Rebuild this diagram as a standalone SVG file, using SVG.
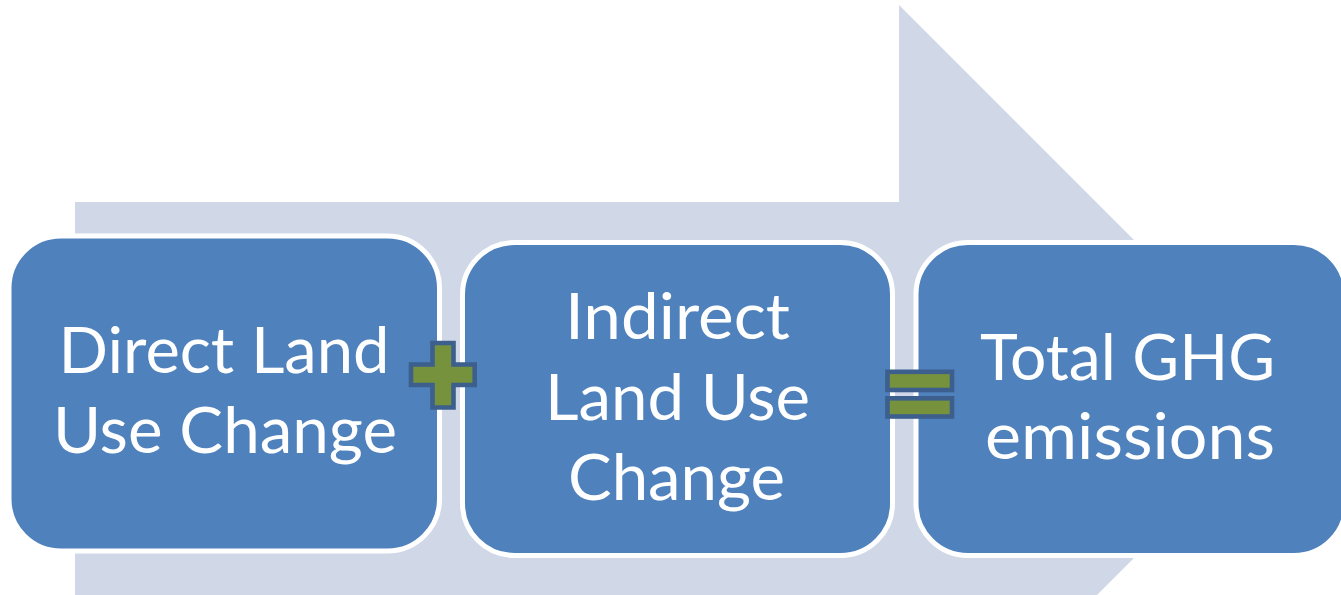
<svg xmlns="http://www.w3.org/2000/svg" width="1341" height="595" viewBox="0 0 1341 595">
<style>
.bg{fill:#D0D8E8}
.box{fill:#4F81BD;stroke:#FFFFFF;stroke-width:5}
.lbl{fill:#FFFFFF;font-family:Lato,"Open Sans","Liberation Sans",sans-serif;font-size:63px;text-anchor:middle}
.op{fill:#76923C;stroke:#3C5F8E;stroke-width:4.6}
</style>
<rect width="1341" height="595" fill="#FFFFFF"/>
<polygon class="bg" points="75,202 899,202 899,5 1293,399 899,793 899,596 75,596"/>
<g id="node-direct">
<rect class="box" x="9" y="236" width="430.5" height="315" rx="52" ry="52"/>
<text class="lbl" x="224" y="373" textLength="331" lengthAdjust="spacingAndGlyphs">Direct Land</text>
<text class="lbl" x="225" y="453" textLength="344" lengthAdjust="spacingAndGlyphs">Use Change</text>
</g>
<g id="node-indirect">
<rect class="box" x="462.5" y="242.5" width="430" height="313" rx="52" ry="52"/>
<text class="lbl" x="677.5" y="339" textLength="225" lengthAdjust="spacingAndGlyphs">Indirect</text>
<text class="lbl" x="677.5" y="420" textLength="265" lengthAdjust="spacingAndGlyphs">Land Use</text>
<text class="lbl" x="676.5" y="500" textLength="217" lengthAdjust="spacingAndGlyphs">Change</text>
</g>
<g id="node-total">
<rect class="box" x="916" y="242.5" width="430" height="313" rx="52" ry="52"/>
<text class="lbl" x="1127.5" y="380" textLength="295" lengthAdjust="spacingAndGlyphs">Total GHG</text>
<text class="lbl" x="1130" y="459" textLength="290" lengthAdjust="spacingAndGlyphs">emissions</text>
</g>
<g id="connectors">
<polygon id="plus" class="op" points="432.5,343 453.5,343 453.5,364.5 474.7,364.5 474.7,385 453.5,385 453.5,407.5 432.5,407.5 432.5,385 411,385 411,364.5 432.5,364.5"/>
<g id="equals">
<rect class="op" x="887.5" y="371.8" width="64.5" height="18.2"/>
<rect class="op" x="887.5" y="398.3" width="64.5" height="18.2"/>
</g>
</g>
</svg>
